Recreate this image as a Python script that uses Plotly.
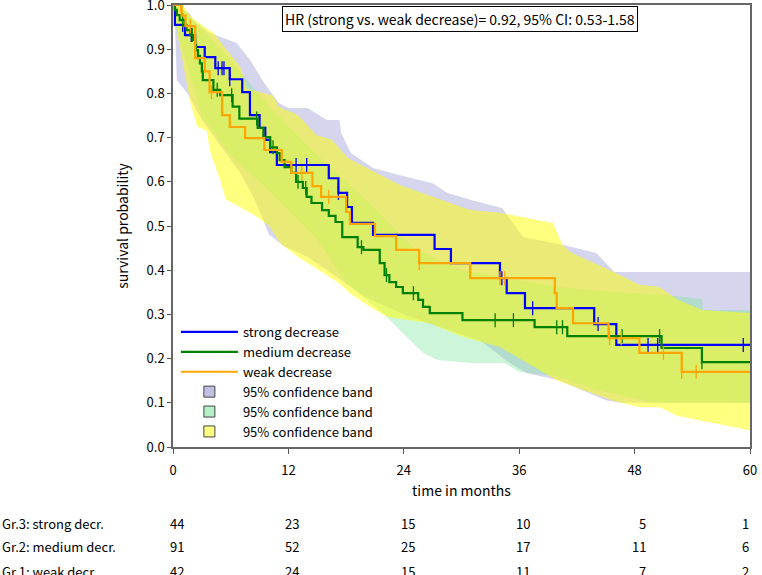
import plotly.graph_objects as go

# Kaplan-Meier steps (time in months, survival after the step)
strong_t = [0, 0.2, 1.25, 2.3, 3.3, 4.4, 5.9, 7.2, 8.0, 9.0, 9.6, 10.1, 10.8, 16.2, 17.2, 18.1, 18.6, 20.8,
            27.2, 28.9, 34.0, 34.7, 36.6, 43.8, 46.1]
strong_s = [1.0, 0.955, 0.932, 0.905, 0.882, 0.857, 0.832, 0.803, 0.751, 0.722, 0.695, 0.667, 0.638, 0.608,
            0.575, 0.543, 0.507, 0.48, 0.448, 0.416, 0.382, 0.348, 0.314, 0.278, 0.231]
strong_cens = [1.0, 1.9, 4.7, 5.1, 5.3, 5.9, 12.8, 13.9, 17.2, 34.2, 37.4, 44.2, 49.4, 50.4, 59.3]

medium_t = [0, 0.2, 0.4, 0.7, 1.25, 1.4, 1.8, 2.1, 2.3, 2.4, 2.6, 2.8, 3.0, 3.1, 4.2, 4.9, 6.2, 6.9, 8.8,
            9.4, 10.1, 10.8, 11.1, 11.6, 12.3, 12.8, 13.5, 13.9, 14.4, 15.5, 16.2, 16.9, 17.6, 19.2, 19.8,
            21.5, 22.0, 22.5, 23.2, 23.9, 25.5, 26.0, 26.7, 30.1, 37.6, 41.0, 50.8, 55.0]
medium_s = [1.0, 0.989, 0.977, 0.966, 0.955, 0.943, 0.932, 0.921, 0.91, 0.898, 0.885, 0.868, 0.85, 0.83,
            0.808, 0.796, 0.77, 0.743, 0.722, 0.701, 0.678, 0.665, 0.649, 0.633, 0.62, 0.6, 0.586, 0.566,
            0.552, 0.536, 0.523, 0.509, 0.475, 0.452, 0.446, 0.416, 0.389, 0.373, 0.362, 0.348, 0.333,
            0.317, 0.303, 0.287, 0.271, 0.251, 0.224, 0.192]
medium_cens = [1.0, 2.0, 2.3, 4.6, 6.1, 8.7, 10.4, 13.0, 13.8, 19.6, 22.2, 25.0, 33.5, 35.4, 39.9, 40.5,
               46.7, 50.6, 55.0]

weak_t = [0, 0.9, 1.3, 2.3, 3.3, 3.8, 5.1, 5.9, 7.5, 9.5, 11.3, 12.3, 14.5, 15.4, 18.0, 18.4, 21.0, 23.2,
          25.6, 30.9, 39.7, 39.9, 41.6, 45.3, 48.5, 52.9]
weak_s = [1.0, 0.976, 0.952, 0.88, 0.85, 0.803, 0.751, 0.724, 0.699, 0.672, 0.645, 0.62, 0.59, 0.566,
          0.532, 0.505, 0.477, 0.446, 0.416, 0.382, 0.348, 0.314, 0.28, 0.246, 0.213, 0.17]
weak_cens = [0.8, 1.8, 4.0, 13.4, 16.2, 25.6, 34.0, 34.5, 45.4, 46.6, 51.0, 52.9, 54.4]

# 95% confidence bands (upper and lower edges)
strong_up_t = [0, 0.2, 0.4, 1.8, 2.0, 3.8, 6.6, 8.0, 9.5, 11.0, 12.0, 14.0, 16.0, 17.3, 17.5, 18.5, 20.8,
               23.6, 27.0, 28.5, 31.0, 34.2, 36.4, 40.6, 44.0, 45.9, 60]
strong_up = [1.0, 1.0, 1.0, 0.98, 0.966, 0.937, 0.914, 0.876, 0.823, 0.778, 0.767, 0.767, 0.74, 0.74, 0.71,
             0.665, 0.631, 0.615, 0.597, 0.575, 0.559, 0.541, 0.475, 0.457, 0.439, 0.396, 0.396]
strong_lo_t = [0, 0.2, 0.4, 1.5, 3, 5, 7, 8.5, 10, 11.5, 14, 16, 18, 20, 24, 28, 32, 35, 36.8, 40, 45,
               46.5, 60]
strong_lo = [1.0, 0.96, 0.83, 0.80, 0.74, 0.68, 0.62, 0.56, 0.48, 0.455, 0.43, 0.40, 0.37, 0.34, 0.30,
             0.27, 0.24, 0.19, 0.167, 0.152, 0.106, 0.10, 0.10]

medium_up_t = [0, 0.5, 2, 5, 10, 15, 20, 25, 30, 38, 41, 46, 50.8, 55, 55.1, 60]
medium_up = [1.0, 1.0, 0.97, 0.9, 0.77, 0.66, 0.56, 0.45, 0.40, 0.37, 0.36, 0.35, 0.345, 0.335, 0.31, 0.31]
medium_lo_t = [0, 0.3, 1, 3, 6, 10, 15, 18, 22, 24, 26, 27.5, 31, 34.5, 36, 40, 44, 50, 60]
medium_lo = [1.0, 0.95, 0.9, 0.75, 0.66, 0.58, 0.47, 0.37, 0.30, 0.255, 0.213, 0.197, 0.19, 0.19, 0.17,
             0.16, 0.13, 0.10, 0.10]

weak_up_t = [0, 1, 2, 4.2, 7, 7.7, 10.4, 11, 13, 14.9, 16.5, 18.2, 20, 23.6, 27, 30.9, 34, 39.5, 40.5,
             41.4, 46, 48.5, 50.6, 52.5, 55, 60]
weak_up = [1.0, 1.0, 0.97, 0.937, 0.86, 0.81, 0.795, 0.77, 0.751, 0.706, 0.695, 0.654, 0.633, 0.593, 0.566,
           0.536, 0.53, 0.507, 0.457, 0.44, 0.394, 0.367, 0.362, 0.333, 0.31, 0.303]
weak_lo_t = [0, 0.5, 1.2, 1.8, 2.5, 3.5, 3.9, 4.9, 5.5, 6.8, 8.8, 10, 11.2, 13, 15.6, 17.3, 18.4, 20.5,
             22.3, 26.7, 30, 34, 40, 45.7, 48.5, 50.6, 52.5, 60]
weak_lo = [1.0, 0.93, 0.85, 0.78, 0.725, 0.715, 0.665, 0.604, 0.56, 0.545, 0.52, 0.50, 0.46, 0.43, 0.394,
           0.37, 0.348, 0.317, 0.294, 0.28, 0.25, 0.226, 0.15, 0.105, 0.09, 0.09, 0.07, 0.038]

# numbers at risk
risk_times = [0, 12, 24, 36, 48, 60]
risk_labels = ["Gr.3: strong decr.", "Gr.2: medium decr.", "Gr.1: weak decr."]
risk_strong = [44, 23, 15, 10, 5, 1]
risk_medium = [91, 52, 25, 17, 11, 6]
risk_weak = [42, 24, 15, 11, 7, 2]

FONT = "Noto Sans CJK JP"


def surv_at(times, surv, t):
    val = surv[0]
    for ti, si in zip(times, surv):
        if ti <= t:
            val = si
    return val


groups = [
    ("strong decrease", "#0000ff", strong_t, strong_s, strong_cens,
     strong_up_t, strong_up, strong_lo_t, strong_lo, "rgba(150,150,210,0.4)"),
    ("medium decrease", "#008000", medium_t, medium_s, medium_cens,
     medium_up_t, medium_up, medium_lo_t, medium_lo, "rgba(130,230,160,0.4)"),
    ("weak decrease", "#ffa500", weak_t, weak_s, weak_cens,
     weak_up_t, weak_up, weak_lo_t, weak_lo, "rgba(255,255,0,0.5)"),
]

fig = go.Figure()

# bands first
for name, col, t, s, cens, ut, up, lt, lo, fillcol in groups:
    fig.add_trace(go.Scatter(x=ut + lt[::-1], y=up + lo[::-1], fill="toself", fillcolor=fillcol,
                             mode="none", hoverinfo="skip", showlegend=False))

for i, (name, col, t, s, cens, ut, up, lt, lo, fillcol) in enumerate(groups):
    fig.add_trace(go.Scatter(x=t + [60], y=s + [s[-1]], mode="lines", line=dict(color=col, width=2.2, shape="hv"),
                             name=name, legendrank=i + 1))
    fig.add_trace(go.Scatter(x=cens, y=[surv_at(t, s, c) for c in cens], mode="markers",
                             marker=dict(symbol="line-ns", size=10, line=dict(color=col, width=1.3)),
                             showlegend=False, hoverinfo="skip"))

# legend entries for the bands
for i, (name, col, t, s, cens, ut, up, lt, lo, fillcol) in enumerate(groups):
    fig.add_trace(go.Scatter(x=[None], y=[None], mode="markers", name="95% confidence band", legendrank=10 + i,
                             marker=dict(symbol="square", size=11, color=fillcol.replace("0.4)", "0.6)"),
                                         line=dict(color="#444", width=1))))

ann = [dict(text="HR (strong vs. weak decrease)= 0.92, 95% CI: 0.53-1.58", xref="paper", yref="paper",
            x=0.497, y=0.968, yanchor="middle", showarrow=False, font=dict(size=14, color="black", family=FONT),
            bordercolor="black", borderwidth=1, borderpad=2, bgcolor="white")]

row_y = [-0.172, -0.226, -0.281]
for label, vals, yy in zip(risk_labels, [risk_strong, risk_medium, risk_weak], row_y):
    ann.append(dict(text=label, xref="paper", yref="paper", x=-0.2998, y=yy, xanchor="left", yanchor="middle",
                    showarrow=False, font=dict(size=13, color="black", family=FONT)))
    for tt, v in zip(risk_times, vals):
        ann.append(dict(text=str(v), xref="x", yref="paper", x=tt, y=yy, xanchor="right", yanchor="middle",
                        xshift=13 if tt < 60 else 1, showarrow=False,
                        font=dict(size=13, color="black", family=FONT)))

fig.update_layout(
    width=762, height=575,
    margin=dict(l=173, r=12, t=5, b=128, autoexpand=False),
    plot_bgcolor="white", paper_bgcolor="white",
    font=dict(family=FONT, size=13, color="black"),
    showlegend=True,
    legend=dict(x=0.005, y=0.0, xanchor="left", yanchor="bottom", bgcolor="rgba(0,0,0,0)",
                font=dict(size=13), itemwidth=57, tracegroupgap=0),
    xaxis=dict(range=[0, 60], tickvals=risk_times, ticks="outside", ticklen=5, tickcolor="#555",
               showline=True, linecolor="#666", linewidth=1.5, mirror=True, showgrid=False, zeroline=False,
               automargin=False, title=dict(text="time in months", font=dict(size=14), standoff=8),
               ticklabelstandoff=6, ticklabeloverflow="allow"),
    yaxis=dict(range=[0, 1], dtick=0.1, tickformat=".1f", ticks="outside", ticklen=4, tickcolor="#555",
               showline=True, linecolor="#666", linewidth=1.5, mirror=True, showgrid=False, zeroline=False,
               automargin=False, title=dict(text="survival probability", font=dict(size=14)),
               ticklabeloverflow="allow"),
    annotations=ann,
)

fig.write_html("out.html", config={"displayModeBar": False},
               post_script="document.body.style.margin='0';")
